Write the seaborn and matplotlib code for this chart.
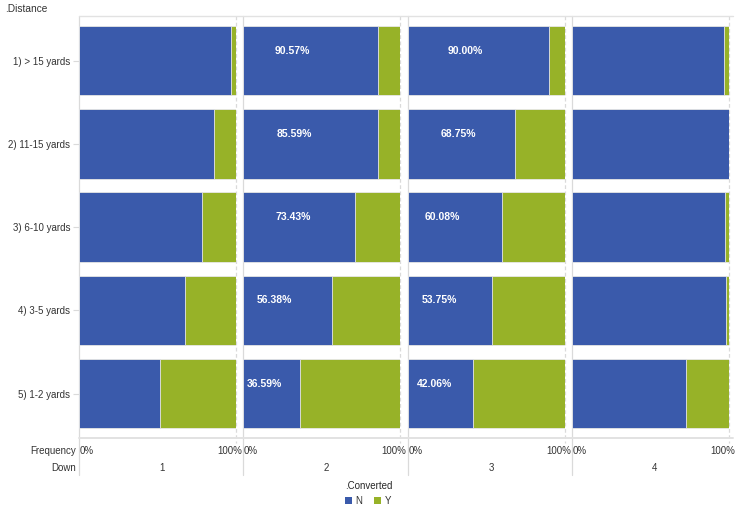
import numpy as np
import pandas as pd
import seaborn as sns
import matplotlib.pyplot as plt
from matplotlib.patches import Patch
from matplotlib.lines import Line2D

# values (percent of each Distance x Down cell)
distance = ["1) > 15 yards", "2) 11-15 yards", "3) 6-10 yards", "4) 3-5 yards", "5) 1-2 yards"]
downs = ["1", "2", "3", "4"]
n_down1 = [97.0, 86.4, 78.3, 67.4, 52.1]
y_down1 = [3.0, 13.6, 21.7, 32.6, 47.9]
n_down2 = [85.7, 85.7, 71.5, 56.5, 36.0]
y_down2 = [14.3, 14.3, 28.5, 43.5, 64.0]
n_down3 = [90.1, 68.3, 59.8, 53.8, 41.4]
y_down3 = [9.9, 31.7, 40.2, 46.2, 58.6]
n_down4 = [97.0, 100.0, 97.6, 98.3, 72.5]
y_down4 = [3.0, 0.0, 2.4, 1.7, 27.5]
# printed labels (only downs 2 and 3 carry them)
label_down2 = [90.57, 85.59, 73.43, 56.38, 36.59]
label_down3 = [90.00, 68.75, 60.08, 53.75, 42.06]

n_vals = [n_down1, n_down2, n_down3, n_down4]
y_vals = [y_down1, y_down2, y_down3, y_down4]
labels = [None, label_down2, label_down3, None]
# where the labels sit inside the panel (x in % of axis)
label_x = [None, [31.4, 32.6, 31.7, 20.3, 13.4], [36.7, 32.2, 22.0, 20.0, 16.9], None]

BLUE = "#3A5AAB"
GREEN = "#97B228"
GRID = "#dadada"
TXT = "#333333"

sns.set_style("white")
plt.rcParams["font.family"] = ["Liberation Sans", "DejaVu Sans"]
plt.rcParams["font.size"] = 7

W, H = 740, 507
fig = plt.figure(figsize=(W / 100, H / 100), dpi=100)

def fx(px):
    return px / W

def fy(py):
    return 1 - py / H

top_px, bot_px = 16.0, 437.7
panel_left = [78.7, 243.0, 407.7, 571.7]
panel_w = 157.0
y_lo, y_hi = 4.53, -0.537
units_per_px = (y_lo - y_hi) / (bot_px - top_px)

for i, d in enumerate(downs):
    ax = fig.add_axes([fx(panel_left[i]), fy(bot_px), fx(panel_w), (bot_px - top_px) / H])
    df = pd.DataFrame({"Distance": distance, "N": n_vals[i], "Y": y_vals[i]})
    df["Total"] = df["N"] + df["Y"]
    sns.barplot(data=df, x="Total", y="Distance", order=distance, orient="h", color=GREEN,
                width=0.835, saturation=1, edgecolor="#e8e8e8", linewidth=0.6, ax=ax)
    sns.barplot(data=df, x="N", y="Distance", order=distance, orient="h", color=BLUE,
                width=0.835, saturation=1, edgecolor="#e8e8e8", linewidth=0.6, ax=ax)
    ax.set_xlim(0, 100)
    ax.set_ylim(y_lo, y_hi)
    ax.set_xlabel("")
    ax.set_ylabel("")
    ax.set_xticks([])
    for s in ax.spines.values():
        s.set_visible(False)
    if i == 0:
        ax.tick_params(axis="y", length=4, width=0.8, color=GRID, pad=2, labelsize=7, labelcolor=TXT, left=True)
    else:
        ax.set_yticks([])

    # 0% solid line running down through the Down row, dashed line at 100%
    ext = y_lo + (475 - bot_px) * units_per_px
    ax.plot([0, 0], [y_hi, ext], color=GRID, lw=0.9, clip_on=False, zorder=0)
    ax.plot([100, 100], [y_hi, y_lo + 5 * units_per_px], color=GRID, lw=0.9,
            ls=(0, (3, 2)), clip_on=False, zorder=0)

    ax.text(0.3, y_lo + (450.7 - bot_px) * units_per_px, "0%", ha="left", va="center",
            color=TXT, fontsize=7, clip_on=False)
    ax.text(104, y_lo + (450.7 - bot_px) * units_per_px, "100%", ha="right", va="center",
            color=TXT, fontsize=7, clip_on=False)
    ax.text(53, y_lo + (467.7 - bot_px) * units_per_px, d, ha="center", va="center",
            color=TXT, fontsize=7, clip_on=False)

    if labels[i] is not None:
        for r, v in enumerate(labels[i]):
            ax.text(label_x[i][r], r - 0.12, f"{v:.2f}%", ha="center", va="center",
                    color="white", fontsize=7.5, fontweight="bold")

# frame lines across the whole grid
fig.add_artist(Line2D([fx(78.7), fx(733)], [fy(top_px), fy(top_px)], color="#e2e2e2", lw=1.0))
fig.add_artist(Line2D([fx(78.7), fx(733)], [fy(bot_px), fy(bot_px)], color="#e2e2e2", lw=1.4))

fig.text(fx(5), fy(9), ".Distance", ha="left", va="center", color=TXT, fontsize=7.3)
fig.text(fx(75.7), fy(450.7), "Frequency", ha="right", va="center", color=TXT, fontsize=7)
fig.text(fx(75.7), fy(467.7), "Down", ha="right", va="center", color=TXT, fontsize=7)

handles = [Patch(facecolor=BLUE, edgecolor="none"), Patch(facecolor=GREEN, edgecolor="none")]
fig.legend(handles, ["N", "Y"], title=".Converted", loc="upper left",
           bbox_to_anchor=(fx(345), fy(481)), ncol=2, frameon=False,
           handlelength=0.7, handleheight=0.7, handletextpad=0.4, columnspacing=1.2,
           fontsize=7, title_fontsize=7, borderpad=0, borderaxespad=0, alignment="left",
           labelcolor=TXT)

fig.savefig("out.png", dpi=100)
